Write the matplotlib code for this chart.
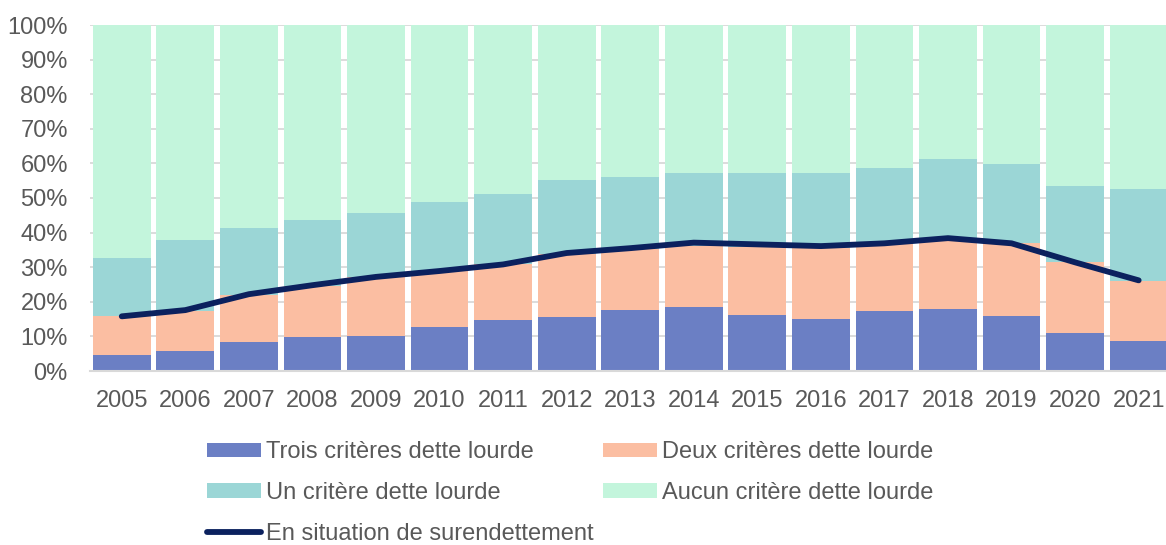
import numpy as np
import matplotlib.pyplot as plt

plt.rcParams['font.family'] = ['Liberation Sans', 'DejaVu Sans']

years = ['2005', '2006', '2007', '2008', '2009', '2010', '2011', '2012', '2013',
         '2014', '2015', '2016', '2017', '2018', '2019', '2020', '2021']

# shares in %
trois = [4.6, 5.8, 8.4, 9.9, 10.1, 12.6, 14.7, 15.5, 17.6, 18.4, 16.1, 15.1, 17.3, 17.9, 15.9, 11.0, 8.8]
deux = [11.2, 11.6, 13.6, 14.7, 17.0, 16.4, 16.2, 18.3, 17.7, 17.8, 19.8, 20.5, 19.4, 19.8, 21.0, 20.5, 17.3]
un = [16.9, 20.5, 19.4, 19.1, 18.6, 19.7, 20.2, 21.5, 20.8, 20.9, 21.4, 21.5, 22.1, 23.7, 23.0, 22.0, 26.6]
aucun = [100 - a - b - c for a, b, c in zip(trois, deux, un)]
surendettement = [15.8, 17.6, 22.2, 24.8, 27.2, 28.9, 30.8, 34.1, 35.5, 37.1, 36.6, 36.1, 36.9, 38.4, 36.9, 31.4, 26.2]

c_trois = '#6b7fc4'
c_deux = '#fbbea2'
c_un = '#9bd6d6'
c_aucun = '#c3f5dc'
c_line = '#0b215e'
txt = '#595959'

fig = plt.figure(figsize=(11.66, 5.45), dpi=100)
ax = fig.add_axes([90 / 1166, 1 - 371 / 545, 1 - 90 / 1166, (371 - 25) / 545])

x = np.arange(len(years))
w = 0.91
b1 = np.array(trois)
b2 = b1 + np.array(deux)
b3 = b2 + np.array(un)
p1 = ax.bar(x, trois, w, color=c_trois, label='Trois critères dette lourde', zorder=2)
p2 = ax.bar(x, deux, w, bottom=b1, color=c_deux, label='Deux critères dette lourde', zorder=2)
p3 = ax.bar(x, un, w, bottom=b2, color=c_un, label='Un critère dette lourde', zorder=2)
p4 = ax.bar(x, aucun, w, bottom=b3, color=c_aucun, label='Aucun critère dette lourde', zorder=2)
ln, = ax.plot(x, surendettement, color=c_line, lw=4.2, solid_capstyle='round',
              label='En situation de surendettement', zorder=3)

ax.set_xlim(-0.5, 16.43)
ax.set_ylim(0, 100)
ax.set_yticks(np.arange(0, 101, 10))
ax.set_yticklabels([f'{v}%' for v in range(0, 101, 10)])
ax.set_xticks(x)
ax.set_xticklabels(years)
ax.yaxis.grid(True, color='#d9d9d9', lw=1.3, zorder=0)
ax.set_axisbelow(True)
for s in ['top', 'right', 'left']:
    ax.spines[s].set_visible(False)
ax.spines['bottom'].set_color('#d9d9d9')
ax.spines['bottom'].set_linewidth(1.5)
ax.tick_params(axis='both', length=0, labelsize=17, colors=txt)
ax.tick_params(axis='x', pad=14)
ax.tick_params(axis='y', pad=16)

# column-wise fill gives rows: Trois/Deux, Un/Aucun, En situation
handles = [p1, p3, ln, p2, p4]
labels = [h.get_label() for h in handles]
leg = fig.legend(handles, labels, ncol=2, loc='upper left',
                 bbox_to_anchor=(207 / 1166, 1 - 441 / 545), frameon=False,
                 fontsize=17, borderpad=0, borderaxespad=0,
                 handlelength=2.3, handleheight=0.55, handletextpad=0.2,
                 columnspacing=0.4, labelspacing=0.8)
for t in leg.get_texts():
    t.set_color(txt)

fig.savefig('out.png', dpi=100)
